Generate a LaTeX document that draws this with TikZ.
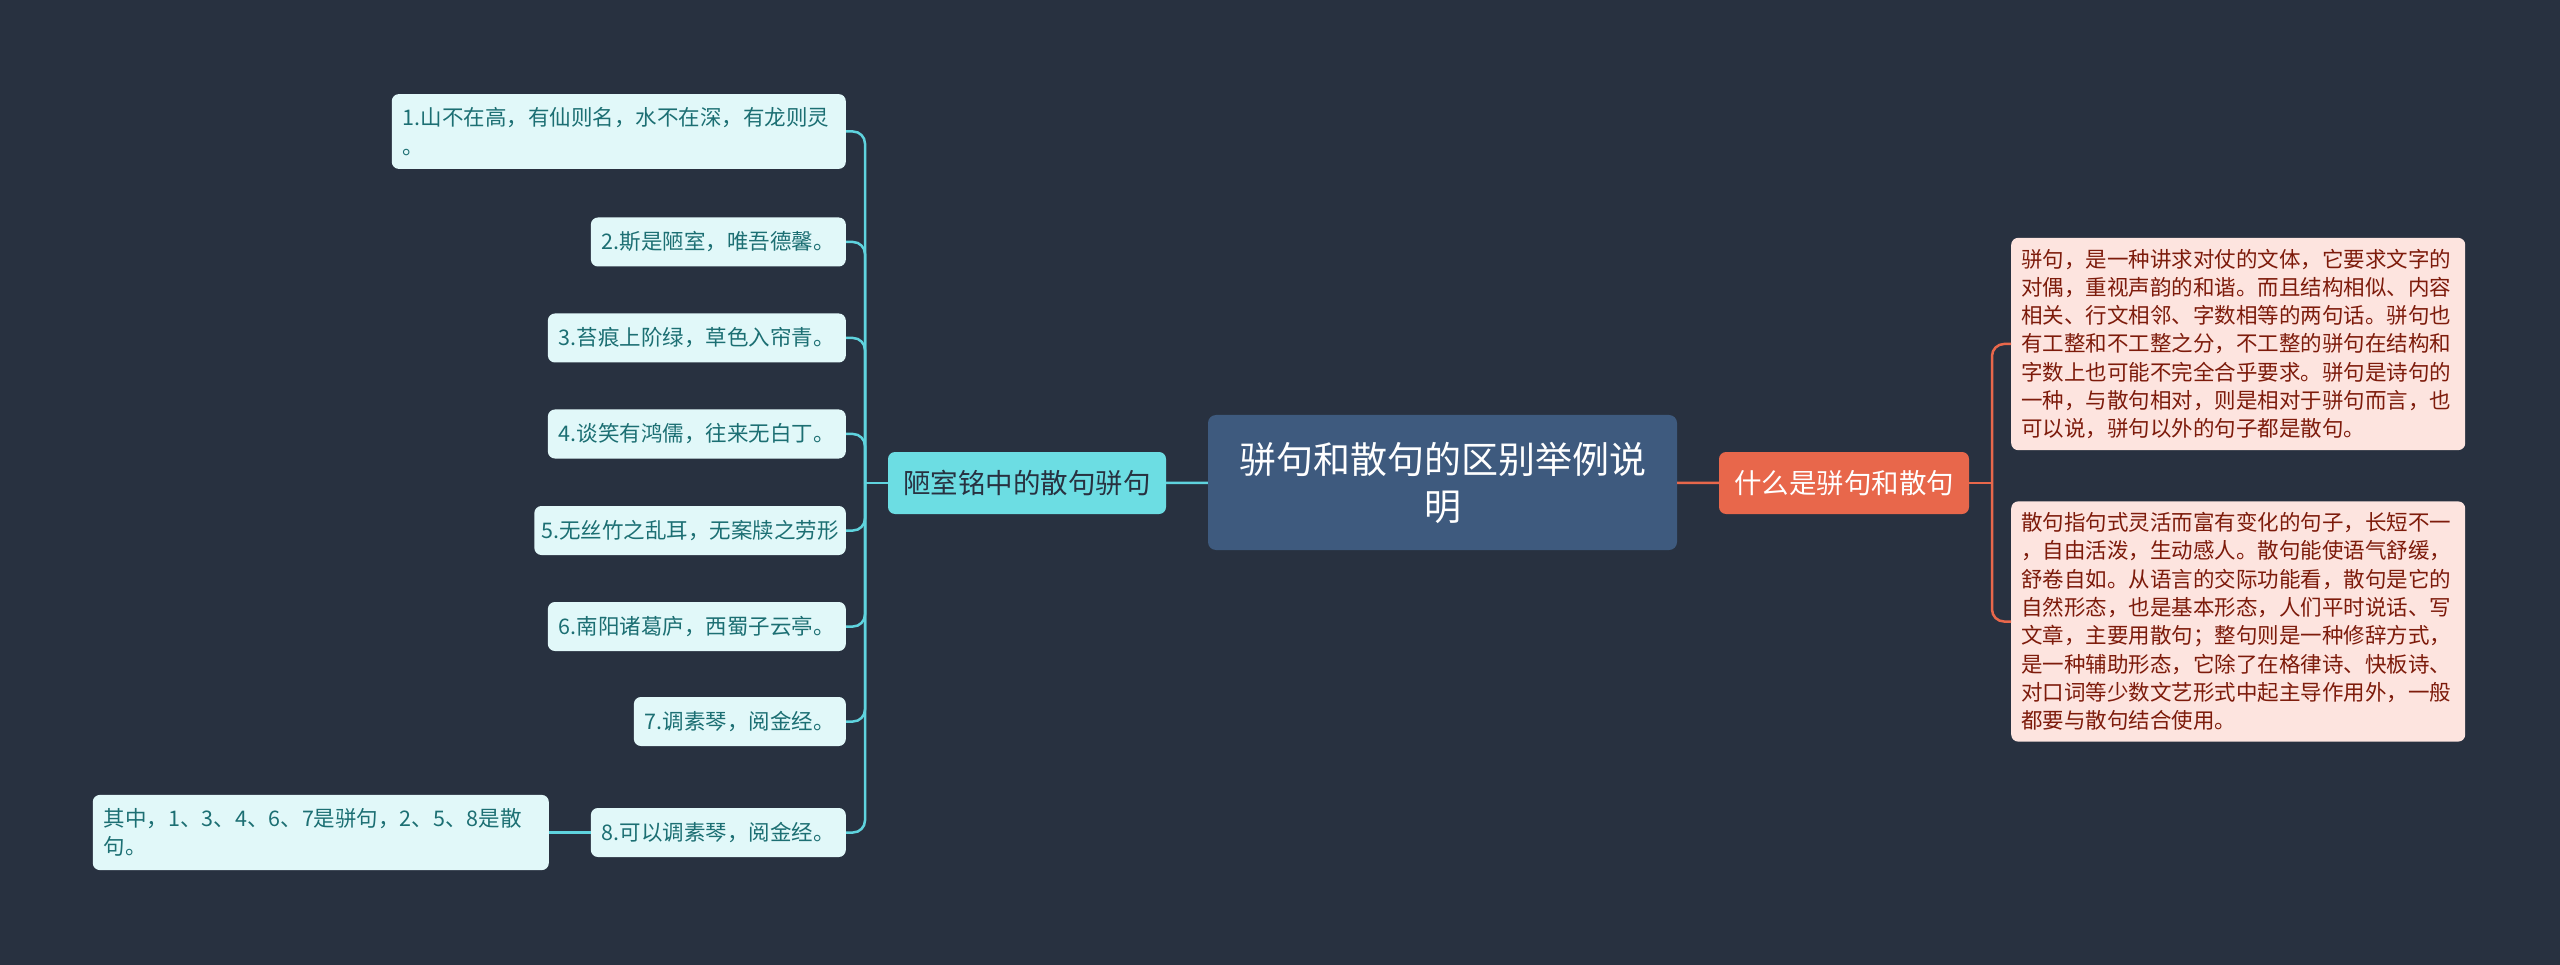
\documentclass[tikz,border=0pt]{standalone}
\usepackage{fontspec}
\newfontfamily\cjk{Noto Sans CJK SC}
\definecolor{bgcol}{HTML}{283140}
\definecolor{rootcol}{HTML}{3E5A7E}
\definecolor{cyancol}{HTML}{6CDDE3}
\definecolor{cyanline}{HTML}{5FD3DE}
\definecolor{leafcol}{HTML}{E1F8F9}
\definecolor{leaftext}{HTML}{1C6F73}
\definecolor{redcol}{HTML}{E8674B}
\definecolor{pinkcol}{HTML}{FDE4DF}
\definecolor{pinktext}{HTML}{7D1B0B}
\begin{document}
\begin{tikzpicture}[x = 1pt, y = -1pt,
  root/.style={rectangle, rounded corners=8pt, fill=rootcol, text=white, align=center, font={\cjk\fontsize{37}{47}\selectfont}, minimum width=469pt, minimum height=135pt},
  branch/.style={rectangle, rounded corners=7pt, minimum height=62pt, font={\cjk\fontsize{27.5}{33}\selectfont}},
  leaf/.style={rectangle, rounded corners=7pt, fill=leafcol, text=leaftext, align=left, inner xsep=11pt, inner ysep=13.5pt, minimum height=49pt, font={\cjk\fontsize{21.5}{28.3}\selectfont}},
  note/.style={rectangle, rounded corners=7pt, fill=pinkcol, text=pinktext, align=left, inner xsep=10pt, inner ysep=11pt, text width=434pt, font={\cjk\fontsize{21.5}{28.3}\selectfont}},
  cline/.style={draw=cyanline, line width=2.5pt},
  rline/.style={draw=redcol, line width=2.5pt}]

        \fill[bgcol] (0, 0) rectangle (2560, 965);

        \node[root] at (1442.5, 482.5) (root){骈句和散句的区别举例说\\明};
        \node[branch, fill=cyancol, text=bgcol, minimum width=278pt] at (1027, 483) (lbranch){陋室铭中的散句骈句};
        \node[branch, fill=redcol, text=white, minimum width=250pt] at (1844, 483) (rbranch){什么是骈句和散句};

        \node[leaf, anchor=east, text width=432pt] at (846, 131.5) (l1){1.山不在高，有仙则名，水不在深，有龙则灵\\。};
        \node[leaf, anchor=east] at (846, 242) (l2){2.斯是陋室，唯吾德馨。};
        \node[leaf, anchor=east] at (846, 338) (l3){3.苔痕上阶绿，草色入帘青。};
        \node[leaf, anchor=east] at (846, 434) (l4){4.谈笑有鸿儒，往来无白丁。};
        \node[leaf, anchor=east, inner xsep=7pt] at (846, 530.5) (l5){5.无丝竹之乱耳，无案牍之劳形};
        \node[leaf, anchor=east] at (846, 626.5) (l6){6.南阳诸葛庐，西蜀子云亭。};
        \node[leaf, anchor=east] at (846, 721.5) (l7){7.调素琴，阅金经。};
        \node[leaf, anchor=east] at (846, 832.5) (l8){8.可以调素琴，阅金经。};
        \node[leaf, anchor=east, text width=434pt] at (549, 832.5) (l8note){其中，1、3、4、6、7是骈句，2、5、8是散\\句。};

        \node[note, anchor=west] at (2011, 344) (r1){骈句，是一种讲求对仗的文体，它要求文字的\\对偶，重视声韵的和谐。而且结构相似、内容\\相关、行文相邻、字数相等的两句话。骈句也\\有工整和不工整之分，不工整的骈句在结构和\\字数上也可能不完全合乎要求。骈句是诗句的\\一种，与散句相对，则是相对于骈句而言，也\\可以说，骈句以外的句子都是散句。};
        \node[note, anchor=west] at (2011, 621.5) (r2){散句指句式灵活而富有变化的句子，长短不一\\，自由活泼，生动感人。散句能使语气舒缓，\\舒卷自如。从语言的交际功能看，散句是它的\\自然形态，也是基本形态，人们平时说话、写\\文章，主要用散句；整句则是一种修辞方式，\\是一种辅助形态，它除了在格律诗、快板诗、\\对口词等少数文艺形式中起主导作用外，一般\\都要与散句结合使用。};

        \coordinate (ljoin) at (865, 483);
        \coordinate (rjoin) at (1992, 483);

        \draw[cline] (root) -- (lbranch);
        \draw[rline] (root) -- (rbranch);
        \draw[cline] (lbranch) -- (ljoin);
        \foreach \n in {l1, l2, l3, l4, l5, l6, l7, l8}
          \draw[cline, rounded corners=12pt] (ljoin) |- (\n.east);
        \draw[cline] (l8) -- (l8note);
        \draw[rline] (rbranch) -- (rjoin);
        \draw[rline, rounded corners=12pt] (rjoin) |- (r1.west);
        \draw[rline, rounded corners=12pt] (rjoin) |- (r2.west);
\end{tikzpicture}
\end{document}
